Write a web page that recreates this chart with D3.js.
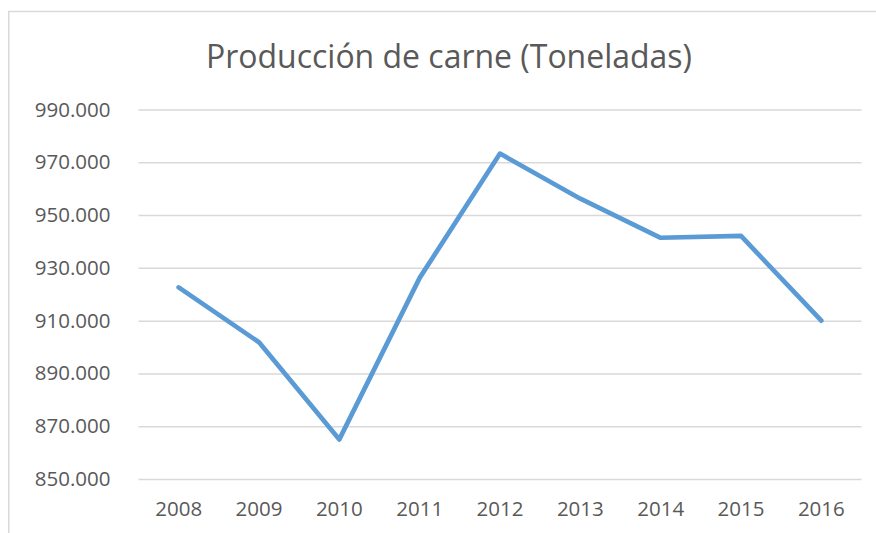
<!DOCTYPE html>
<html>
<head>
<meta charset="utf-8">
<script src="https://cdn.jsdelivr.net/npm/d3@7"></script>
<style>
  body { margin: 0; background: #fff; }
  svg { display: block; }
  text { font-family: "Open Sans", "Noto Sans", sans-serif; fill: #595959; }
</style>
</head>
<body>
<svg id="chart" width="876" height="533"></svg>
<script>
// data
var years = ["2008", "2009", "2010", "2011", "2012", "2013", "2014", "2015", "2016"];
var produccion = [922600, 901800, 865000, 926200, 973300, 956200, 941400, 942100, 910000];
var yTicks = [850000, 870000, 890000, 910000, 930000, 950000, 970000, 990000];
var titulo = "Producción de carne (Toneladas)";

var svg = d3.select("#chart");

// chart frame (only left and top edges show)
svg.append("path")
  .attr("d", "M8.75,533 V11.5 H876")
  .attr("fill", "none")
  .attr("stroke", "#d9d9d9")
  .attr("stroke-width", 1.5);

var margin = {left: 138.5, right: 861.5, top: 109.5, bottom: 479};

var x = d3.scaleBand()
  .domain(years)
  .range([margin.left, margin.right]);

var y = d3.scaleLinear()
  .domain([850000, 990000])
  .range([margin.bottom, margin.top]);

// es-ES style thousands separator with a dot
var fmt = function(d) { return d3.format(",")(d).replace(/,/g, "."); };

// gridlines
var yAxis = d3.axisLeft(y)
  .tickValues(yTicks)
  .tickSize(-(margin.right - margin.left))
  .tickPadding(28)
  .tickFormat(fmt);

var gy = svg.append("g")
  .attr("transform", "translate(" + margin.left + ",0)")
  .call(yAxis);
gy.select(".domain").remove();
gy.selectAll(".tick line").attr("stroke", "#d9d9d9").attr("stroke-width", 1.5);
gy.selectAll(".tick text")
  .attr("font-size", 20.5)
  .attr("fill", "#595959")
  .style("font-family", "'Open Sans', sans-serif");

var xAxis = d3.axisBottom(x).tickSize(0).tickPadding(22);
var gx = svg.append("g")
  .attr("transform", "translate(0," + margin.bottom + ")")
  .call(xAxis);
gx.select(".domain").remove();
gx.selectAll(".tick text")
  .attr("font-size", 20.5)
  .attr("fill", "#595959")
  .style("font-family", "'Open Sans', sans-serif");

// the line
var line = d3.line()
  .x(function(d, i) { return x(years[i]) + x.bandwidth() / 2; })
  .y(function(d) { return y(d); });

svg.append("path")
  .datum(produccion)
  .attr("d", line)
  .attr("fill", "none")
  .attr("stroke", "#5b9bd5")
  .attr("stroke-width", 4.7)
  .attr("stroke-linejoin", "round")
  .attr("stroke-linecap", "round");

// title: cap height like the picture, squeezed to its width
svg.append("text")
  .attr("x", 449)
  .attr("y", 67.5)
  .attr("text-anchor", "middle")
  .attr("font-size", 33)
  .attr("textLength", 486)
  .attr("lengthAdjust", "spacingAndGlyphs")
  .text(titulo);
</script>
</body>
</html>
